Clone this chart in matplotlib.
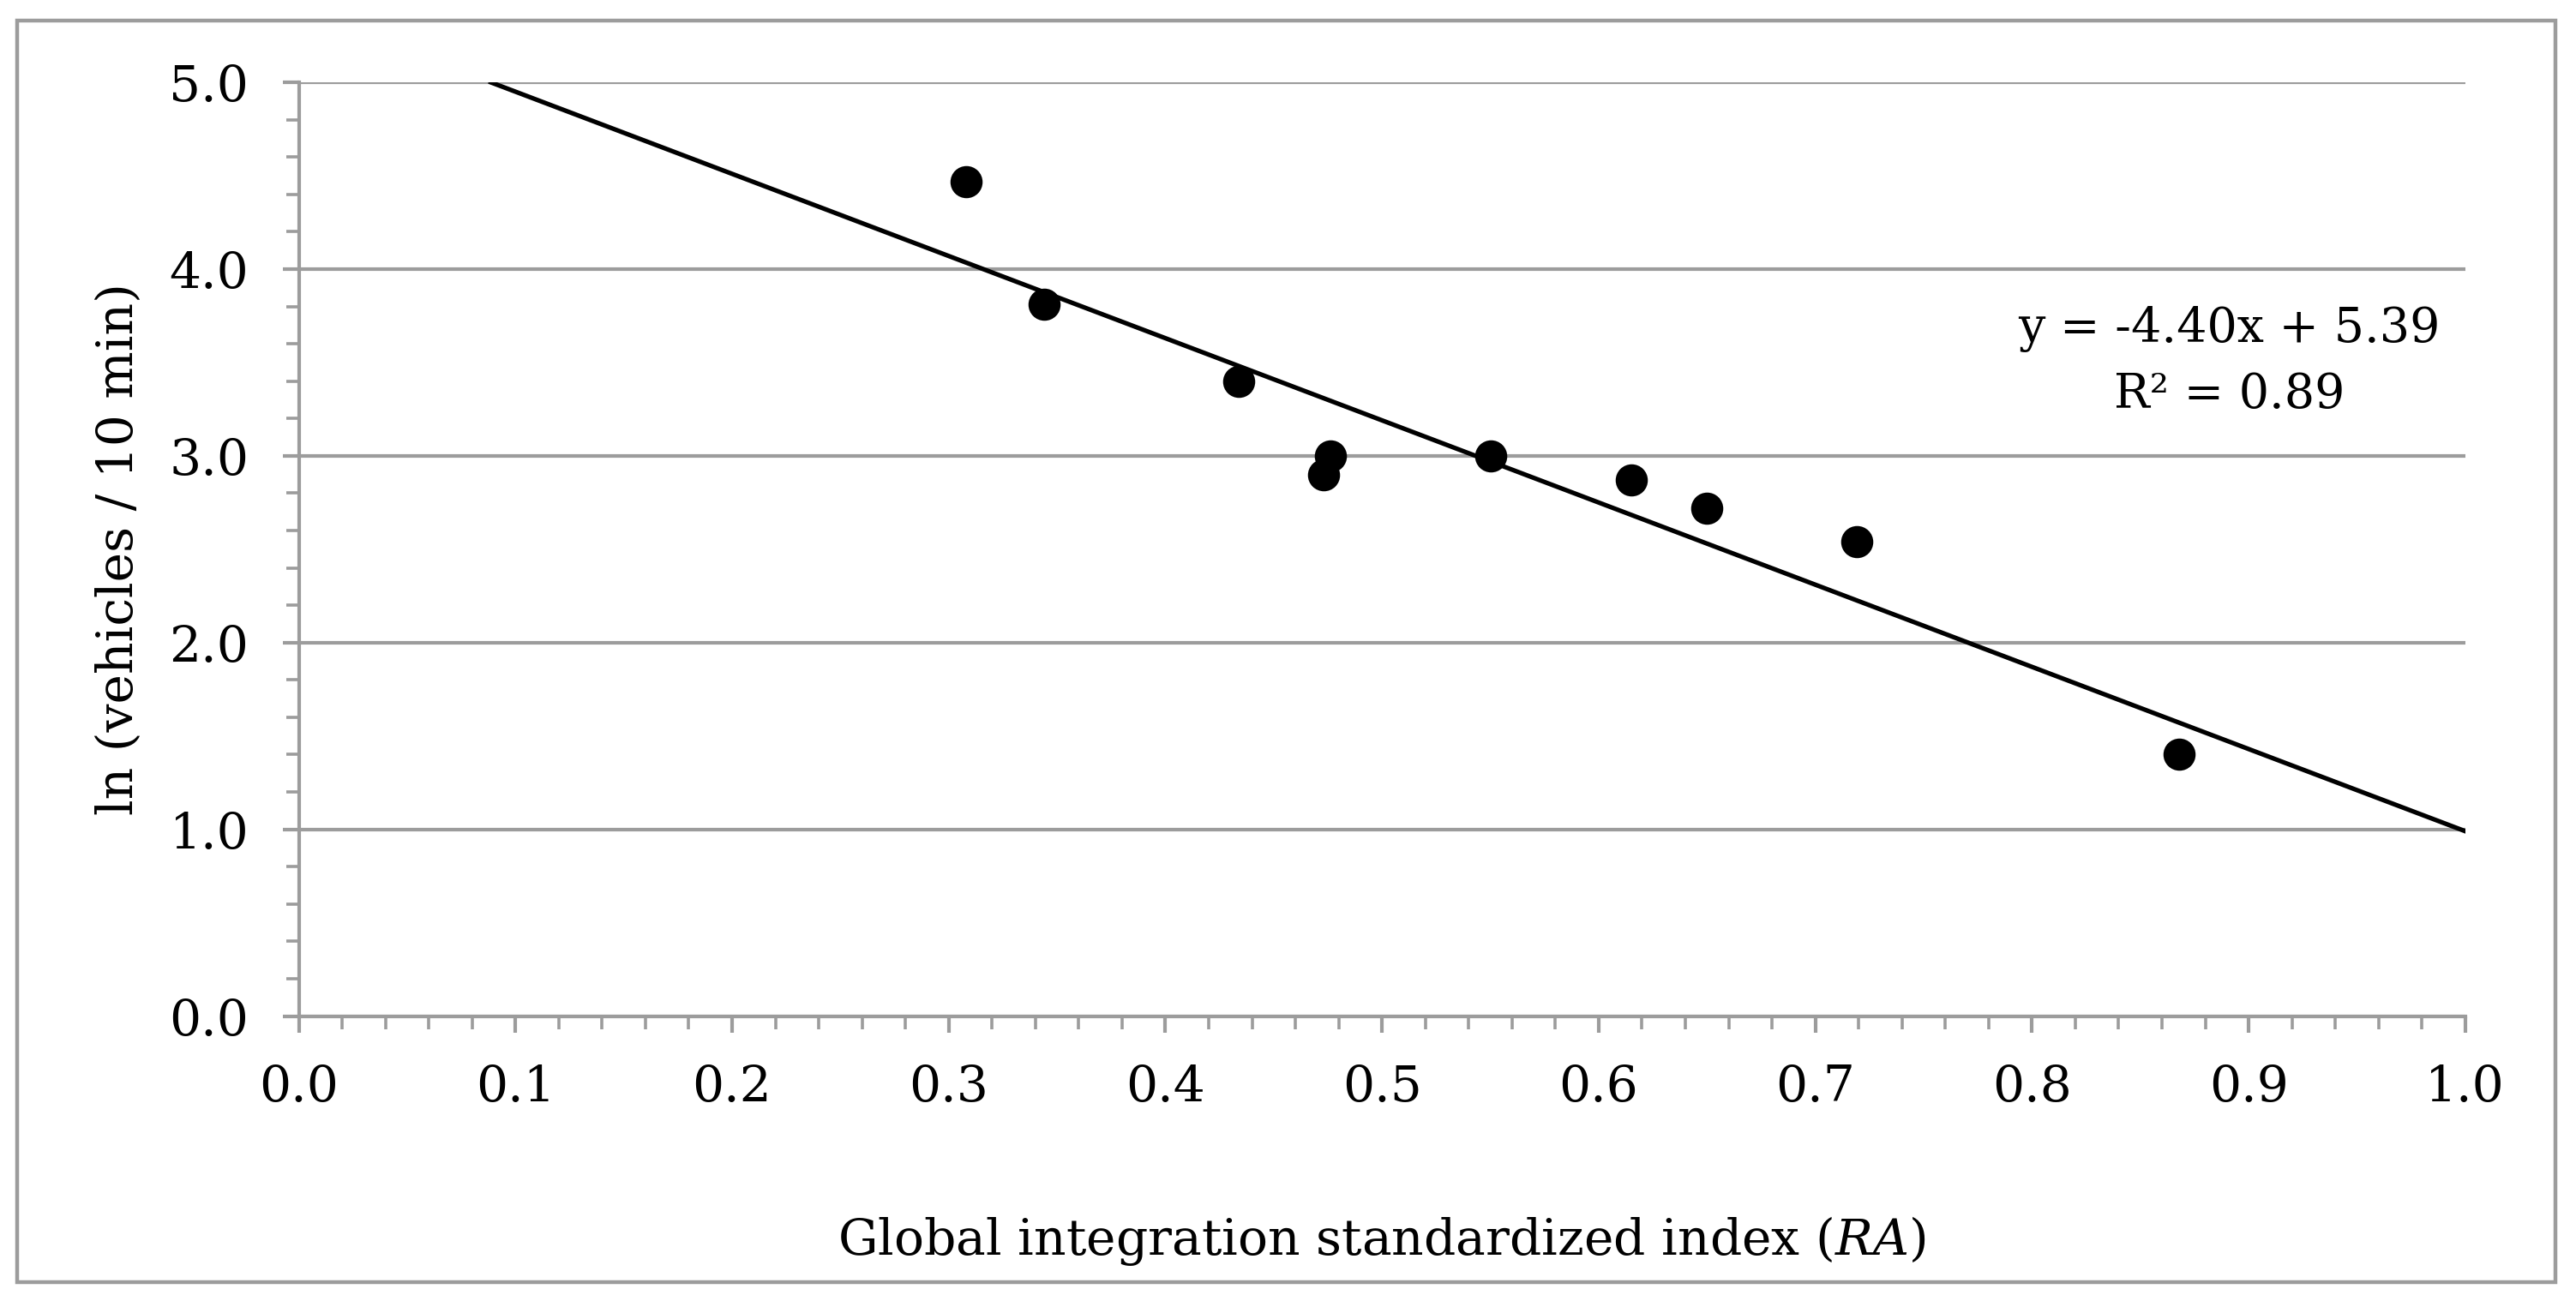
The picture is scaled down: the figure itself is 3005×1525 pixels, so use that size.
import matplotlib
matplotlib.use('Agg')
import matplotlib.pyplot as plt
from matplotlib.patches import Rectangle
from matplotlib.ticker import MultipleLocator, FormatStrFormatter
import numpy as np

plt.rcParams['font.family'] = ['DejaVu Serif']
plt.rcParams['mathtext.fontset'] = 'custom'
plt.rcParams['mathtext.rm'] = 'DejaVu Serif'
plt.rcParams['mathtext.it'] = 'DejaVu Serif:italic'

# measured points
ra = [0.308, 0.344, 0.434, 0.473, 0.476, 0.550, 0.615, 0.650, 0.719, 0.868]
ln_vehicles = [4.47, 3.81, 3.40, 2.90, 3.00, 3.00, 2.87, 2.72, 2.54, 1.40]

# linear trend reported on the chart
slope = -4.40
intercept = 5.39
r2 = 0.89

x_ticks = [0.0, 0.1, 0.2, 0.3, 0.4, 0.5, 0.6, 0.7, 0.8, 0.9, 1.0]
y_ticks = [0.0, 1.0, 2.0, 3.0, 4.0, 5.0]

grey = '#9c9c9c'
fs = 21

fig = plt.figure(figsize=(15.025, 7.625), dpi=200)

# outer frame
fig.patches.append(Rectangle((0.0065, 0.019), 0.9855, 0.965, transform=fig.transFigure,
                             fill=False, edgecolor=grey, linewidth=1.6))

ax = fig.add_axes([0.116, 0.2226, 0.841, 0.7144])

# trend line from where it enters the top of the plot to x = 1
x_start = (y_ticks[-1] - intercept) / slope
xs = np.array([x_start, 1.0])
ax.plot(xs, slope * xs + intercept, color='black', linewidth=1.9, zorder=3)

ax.plot(ra, ln_vehicles, 'o', color='black', markersize=12.5, zorder=4)

ax.set_xlim(0, 1.0)
ax.set_ylim(0, 5.0)
ax.set_xticks(x_ticks)
ax.set_yticks(y_ticks)
ax.xaxis.set_minor_locator(MultipleLocator(0.02))
ax.yaxis.set_minor_locator(MultipleLocator(0.2))
ax.xaxis.set_major_formatter(FormatStrFormatter('%.1f'))
ax.yaxis.set_major_formatter(FormatStrFormatter('%.1f'))

ax.yaxis.grid(True, which='major', color=grey, linewidth=1.5)
ax.set_axisbelow(True)

for side in ['top', 'right']:
    ax.spines[side].set_visible(False)
for side in ['left', 'bottom']:
    ax.spines[side].set_color(grey)
    ax.spines[side].set_linewidth(1.5)

ax.tick_params(axis='both', which='major', direction='out', color=grey, width=1.5,
               length=7, labelsize=fs)
ax.tick_params(axis='x', which='major', pad=13)
ax.tick_params(axis='y', which='major', pad=14)
ax.tick_params(axis='both', which='minor', direction='out', color=grey, width=1.3,
               length=5.5)

ax.set_xlabel(r'Global integration standardized index ($\mathit{RA}$)', fontsize=fs)
ax.set_ylabel('ln (vehicles / 10 min)', fontsize=fs)
ax.xaxis.set_label_coords(0.5, -0.212)
ax.yaxis.set_label_coords(-0.072, 0.5)

ax.text(0.891, 0.736, f'y = {slope:.2f}x + {intercept:.2f}', transform=ax.transAxes,
        ha='center', va='center', fontsize=20)
ax.text(0.891, 0.665, f'R\u00b2 = {r2:.2f}', transform=ax.transAxes,
        ha='center', va='center', fontsize=20)

fig.savefig('out.png', dpi=200)
